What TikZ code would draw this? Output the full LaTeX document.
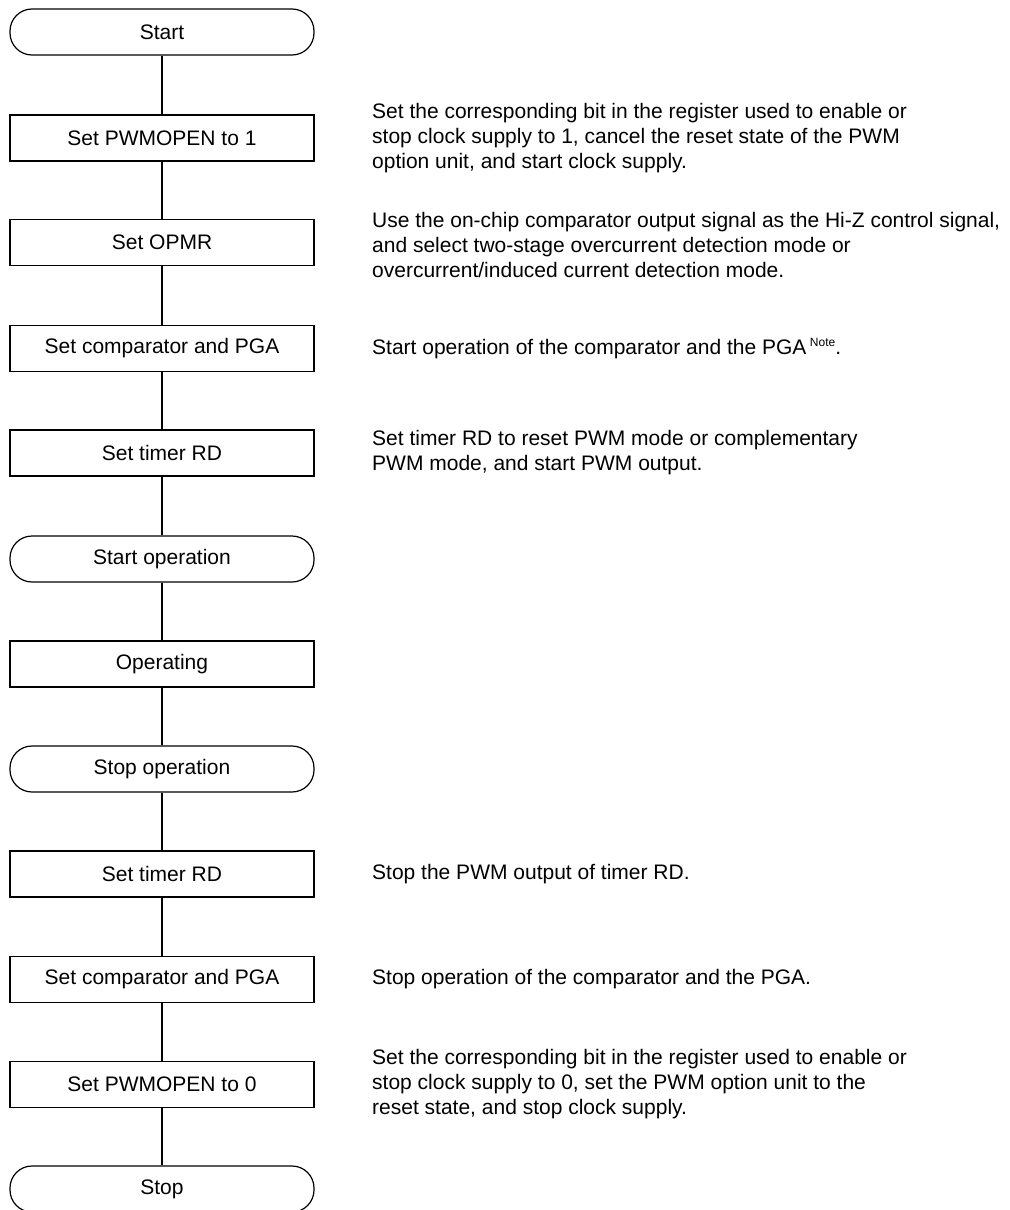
\documentclass[tikz,border=0pt]{standalone}
\usepackage{fontspec}
\setmainfont{Liberation Sans}
\usetikzlibrary{positioning}

\tikzset{
  procbox/.style={draw, line width=0.9pt, minimum width=228pt, minimum height=34.5pt,
    inner sep=0pt, font=\fontsize{15.75}{18.75}\selectfont},
  termbox/.style={procbox, rounded corners=16.5pt},
  note/.style={anchor=west, align=left, inner sep=0pt,
    font=\fontsize{15.75}{18.75}\selectfont},
  flow/.style={line width=0.9pt}
}

\begin{document}
\begin{tikzpicture}[x=0.75pt, y=-0.75pt, node distance=43pt]
  \useasboundingbox (0,0) rectangle (1010,1210);

  % Ablauf
  \node[termbox] (start)   at (162,32)   {Start};
  \node[procbox] (pwmon)   at (162,138)  {Set PWMOPEN to 1};
  \node[procbox] (opmr)    at (162,242.5){Set OPMR};
  \node[procbox] (cmpon)   at (162,348.5){Set comparator and PGA};
  \node[procbox] (tmron)   at (162,453)  {Set timer RD};
  \node[termbox] (opstart) at (162,559)  {Start operation};
  \node[procbox] (oper)    at (162,664)  {Operating};
  \node[termbox] (opstop)  at (162,769)  {Stop operation};
  \node[procbox] (tmroff)  at (162,874)  {Set timer RD};
  \node[procbox] (cmpoff)  at (162,979.5){Set comparator and PGA};
  \node[procbox] (pwmoff)  at (162,1084.5){Set PWMOPEN to 0};
  \node[termbox] (stop)    at (162,1189) {Stop};

  % Erlaeuterungen
  \node[note, right=of pwmon] (dpwmon) {Set the corresponding bit in the register used to enable or\\
    stop clock supply to 1, cancel the reset state of the PWM\\
    option unit, and start clock supply.};
  \node[note, right=of opmr, yshift=-2pt] (dopmr) {Use the on-chip comparator output signal as the Hi-Z control signal,\\
    and select two-stage overcurrent detection mode or\\
    overcurrent/induced current detection mode.};
  \node[note, right=of cmpon] (dcmpon) {Start operation of the comparator and the PGA\,\raisebox{0.8ex}{\fontsize{9}{9}\selectfont Note}.};
  \node[note, right=of tmron] (dtmron) {Set timer RD to reset PWM mode or complementary\\
    PWM mode, and start PWM output.};
  \node[note, right=of tmroff] (dtmroff) {Stop the PWM output of timer RD.};
  \node[note, right=of cmpoff] (dcmpoff) {Stop operation of the comparator and the PGA.};
  \node[note, right=of pwmoff] (dpwmoff) {Set the corresponding bit in the register used to enable or\\
    stop clock supply to 0, set the PWM option unit to the\\
    reset state, and stop clock supply.};

  % Verbindungen
  \foreach \a/\b in {start/pwmon, pwmon/opmr, opmr/cmpon, cmpon/tmron, tmron/opstart,
                     opstart/oper, oper/opstop, opstop/tmroff, tmroff/cmpoff,
                     cmpoff/pwmoff, pwmoff/stop}
    \draw[flow] (\a) -- (\b);
\end{tikzpicture}
\end{document}
